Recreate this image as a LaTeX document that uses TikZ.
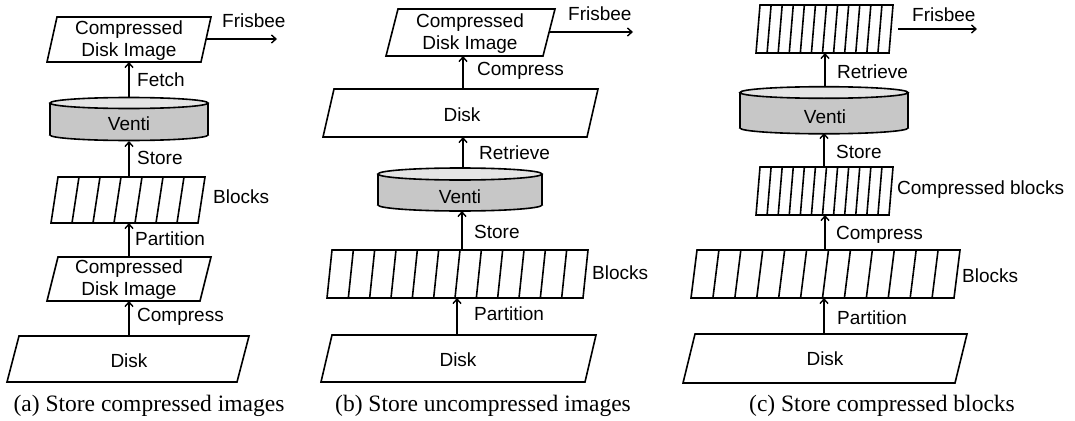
\documentclass[tikz,border=0pt]{standalone}
\usepackage{fontspec}
\setmainfont{Liberation Serif}
\setsansfont{Liberation Sans}
\usetikzlibrary{arrows.meta}
\tikzset{
  shapeline/.style={draw=black, line width=1.6pt, line join=miter},
  arr/.style={line width=1.6pt, -{Straight Barb[length=4.5pt,width=8pt,line width=1.4pt]}},
  lbl/.style={font=\sffamily\fontsize{19}{22}\selectfont, inner sep=0pt, anchor=west},
  inlbl/.style={font=\sffamily\fontsize{19}{22}\selectfont, inner sep=0pt, align=center},
  captxt/.style={font=\rmfamily\fontsize{23.5}{26}\selectfont, inner sep=0pt},
  cylbody/.style={fill=black!22},
  cyltop/.style={fill=black!10},
}
% parallelogram: top-left x, top-right x, top y, bottom y, slant
\newcommand\pgram[5]{%
  \draw[shapeline, fill=white] (#1,#3) -- (#2,#3) -- ({#2-#5},#4) -- ({#1-#5},#4) -- cycle;}
% block row: top-left x, top-right x, top y, bottom y, slant, cells-1
\newcommand\blockrow[6]{%
  \pgram{#1}{#2}{#3}{#4}{#5}
  \foreach \i in {1,...,#6} {
    \draw[shapeline] ({#1+(#2-#1)*\i/(#6+1)},#3) -- ({#1+(#2-#1)*\i/(#6+1)-#5},#4);
  }}
% cylinder: left x, right x, top center y, bottom center y, y radius
\newcommand\cyl[5]{%
  \fill[cylbody] (#1,#3) rectangle (#2,#4);
  \fill[cylbody] ({(#1+#2)/2},#4) ellipse[x radius={(#2-#1)/2}, y radius=#5];
  \begin{scope}
    \clip ({#1-4},#4) rectangle ({#2+4},{#4+#5+4});
    \draw[shapeline] ({(#1+#2)/2},#4) ellipse[x radius={(#2-#1)/2}, y radius=#5];
  \end{scope}
  \draw[shapeline] (#1,#3) -- (#1,#4);
  \draw[shapeline] (#2,#3) -- (#2,#4);
  \draw[shapeline, cyltop] ({(#1+#2)/2},#3) ellipse[x radius={(#2-#1)/2}, y radius=#5];}
\begin{document}
\begin{tikzpicture}[x=1pt, y=-1pt]
\useasboundingbox (0,0) rectangle (1075,420);

% ================= (a) =================
\pgram{57}{211}{17}{62}{10}
\node[inlbl] (aimg) at (129,41) {Compressed\\Disk Image};
\cyl{50}{208}{103}{135}{5.5}
\node[inlbl] (aventi) at (129,124) {Venti};
\blockrow{58}{205}{177}{223}{7}{6}
\pgram{58}{211}{257}{301}{11}
\node[inlbl] (acimg) at (129,280) {Compressed\\Disk Image};
\pgram{19}{249}{336}{382}{12}
\node[inlbl] (adisk) at (129,361) {Disk};

\coordinate (a1b) at (129,62);
\coordinate (acylt) at (129,97.5);
\coordinate (acylb) at (129,141);
\coordinate (ablkt) at (129,177);
\coordinate (ablkb) at (129,223);
\coordinate (a2t) at (129,257);
\coordinate (a2b) at (129,301);
\coordinate (adt) at (129,336);
\coordinate (afs) at (206,39);
\coordinate (afe) at (277,39);
\draw[arr] (acylt) -- (a1b);
\draw[arr] (ablkt) -- (acylb);
\draw[arr] (a2t) -- (ablkb);
\draw[arr] (adt) -- (a2b);
\draw[arr] (afs) -- (afe);

\node[lbl] (afris) at (222,21) {Frisbee};
\node[lbl] (afetch) at (137,80) {Fetch};
\node[lbl] (astore) at (137,158) {Store};
\node[lbl] (ablocks) at (213,197) {Blocks};
\node[lbl] (apart) at (135,239) {Partition};
\node[lbl] (acomp) at (137,317) {Compress};
\node[captxt] (capa) at (149,406) {(a) Store compressed images};

% ================= (b) =================
\pgram{398}{555}{9}{56}{12}
\node[inlbl] (bimg) at (470,34) {Compressed\\Disk Image};
\pgram{334}{598}{89}{137}{11}
\node[inlbl] (bdisk1) at (462,115) {Disk};
\cyl{378}{542}{174}{205}{6}
\node[inlbl] (bventi) at (460,197) {Venti};
\blockrow{332}{588}{250}{298}{5}{11}
\pgram{332}{596}{335}{382}{11}
\node[inlbl] (bdisk2) at (458,360) {Disk};

\coordinate (b1b) at (463,56);
\coordinate (bd1t) at (463,89);
\coordinate (bd1b) at (463,137);
\coordinate (bcylt) at (463,168);
\coordinate (bcylb) at (462,211);
\coordinate (bblkt) at (462,250);
\coordinate (bblkb) at (457,298);
\coordinate (bd2t) at (457,335);
\coordinate (bfs) at (549,32);
\coordinate (bfe) at (633,32);
\draw[arr] (bd1t) -- (b1b);
\draw[arr] (bcylt) -- (bd1b);
\draw[arr] (bblkt) -- (bcylb);
\draw[arr] (bd2t) -- (bblkb);
\draw[arr] (bfs) -- (bfe);

\node[lbl] (bfris) at (568,14) {Frisbee};
\node[lbl] (bcomp) at (477,71) {Compress};
\node[lbl] (bret) at (479,153) {Retrieve};
\node[lbl] (bstore) at (474,232) {Store};
\node[lbl] (bblocks) at (592,273) {Blocks};
\node[lbl] (bpart) at (474,314) {Partition};
\node[captxt] (capb) at (483,406) {(b) Store uncompressed images};

% ================= (c) =================
\blockrow{760}{893}{5}{53}{4}{11}
\cyl{740}{908}{92.5}{128}{5.8}
\node[inlbl] (cventi) at (825,117) {Venti};
\blockrow{760}{893}{167}{215}{4}{11}
\blockrow{697}{960}{250}{298}{6}{11}
\pgram{695}{967}{334}{383}{12}
\node[inlbl] (cdisk) at (825,359) {Disk};

\coordinate (c1b) at (825,53);
\coordinate (ccylt) at (825,87);
\coordinate (ccylb) at (824,133);
\coordinate (ccbt) at (824,167);
\coordinate (ccbb) at (825,215);
\coordinate (cblkt) at (825,250);
\coordinate (cblkb) at (824,298);
\coordinate (cdt) at (824,334);
\coordinate (cfs) at (898,29);
\coordinate (cfe) at (977,29);
\draw[arr] (ccylt) -- (c1b);
\draw[arr] (ccbt) -- (ccylb);
\draw[arr] (cblkt) -- (ccbb);
\draw[arr] (cdt) -- (cblkb);
\draw[arr] (cfs) -- (cfe);

\node[lbl] (cfris) at (912,15) {Frisbee};
\node[lbl] (cret) at (837,72) {Retrieve};
\node[lbl] (cstore) at (836,152) {Store};
\node[lbl] (ccblocks) at (897,190) {Compressed blocks};
\node[lbl] (ccomp) at (836,235) {Compress};
\node[lbl] (cblocks) at (962,276) {Blocks};
\node[lbl] (cpart) at (837,318) {Partition};
\node[captxt] (capc) at (882,406) {(c) Store compressed blocks};
\end{tikzpicture}
\end{document}
